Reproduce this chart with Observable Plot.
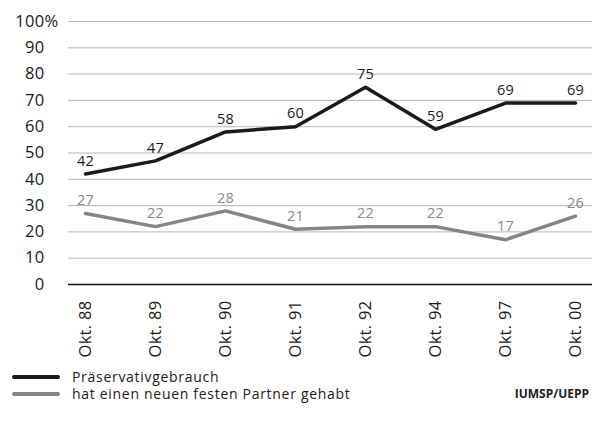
<!DOCTYPE html>
<html><head><meta charset="utf-8">
<script src="https://cdn.jsdelivr.net/npm/d3@7"></script>
<script src="https://cdn.jsdelivr.net/npm/@observablehq/plot@0.6"></script>
<style>
body{margin:0;background:#fff;font-family:"Open Sans",sans-serif;}
#legend{position:relative;height:62px;font-size:14px;letter-spacing:0.7px;color:#1a1a1a;}
.row{position:absolute;left:12px;display:flex;align-items:center;height:16px;line-height:16px;}
.row span{display:block;height:16px;line-height:16px;}
.sw{width:48px;height:4px;margin-right:12px;border-radius:2px;}
#src{position:absolute;right:3px;top:22px;font-size:12px;letter-spacing:0;font-weight:bold;color:#222;line-height:16px;height:16px;}
svg text{letter-spacing:0.3px;}
</style></head>
<body>
<div id="chart"></div>
<div id="legend"></div>
<script>
const categories = ["Okt. 88","Okt. 89","Okt. 90","Okt. 91","Okt. 92","Okt. 94","Okt. 97","Okt. 00"];
const condomUse = [42,47,58,60,75,59,69,69];
const newPartner = [27,22,28,21,22,22,17,26];
const seriesNames = ["Präservativgebrauch","hat einen neuen festen Partner gehabt"];
const seriesColors = ["#1a1a1a","#858585"];
const yTicks = [0,10,20,30,40,50,60,70,80,90,100];
const source = "IUMSP/UEPP";

const d1 = categories.map((c,i)=>({cat:c, v:condomUse[i]}));
const d2 = categories.map((c,i)=>({cat:c, v:newPartner[i]}));

const fa = 16.5, fv = 14.5;
const plot = Plot.plot({
  width:592, height:364,
  marginLeft:68, marginRight:0, marginTop:21, marginBottom:80,
  style:{fontFamily:"'Open Sans',sans-serif", fontSize:fa+"px", color:"#1a1a1a"},
  x:{type:"point", domain:categories, padding:0.2, label:null},
  y:{domain:[0,100], label:null},
  marks:[
    Plot.ruleY(yTicks.filter(d=>d>0), {stroke:"#b5b5b5", strokeWidth:1}),
    Plot.ruleY([0], {stroke:"#111", strokeWidth:1.6}),
    Plot.axisY(yTicks, {tickSize:0, tickPadding:24, fontSize:fa, fill:"#1a1a1a"}),
    Plot.text([100], {y:d=>d, text:()=>"%", frameAnchor:"left", textAnchor:"start", dx:-24, fontSize:fa, fill:"#1a1a1a"}),
    Plot.axisX({tickSize:0, tickRotate:-90, tickPadding:16, fontSize:fa, fill:"#1a1a1a"}),
    Plot.line(d2, {x:"cat", y:"v", stroke:seriesColors[1], strokeWidth:3.5}),
    Plot.line(d1, {x:"cat", y:"v", stroke:seriesColors[0], strokeWidth:3.5}),
    Plot.text(d1, {x:"cat", y:"v", text:d=>String(d.v), dy:-13, fontSize:fv, fill:"#1a1a1a"}),
    Plot.text(d2, {x:"cat", y:"v", text:d=>String(d.v), dy:-13, fontSize:fv, fill:"#8a8a8a"})
  ]
});
document.getElementById("chart").appendChild(plot);

const leg = document.getElementById("legend");
seriesNames.forEach((n,i)=>{
  const r = document.createElement("div");
  r.className="row"; r.style.top = (5+i*17)+"px";
  r.innerHTML = `<div class="sw" style="background:${seriesColors[i]}"></div><span>${n}</span>`;
  leg.appendChild(r);
});
const s = document.createElement("div"); s.id="src"; s.textContent=source; leg.appendChild(s);
</script>
</body></html>
